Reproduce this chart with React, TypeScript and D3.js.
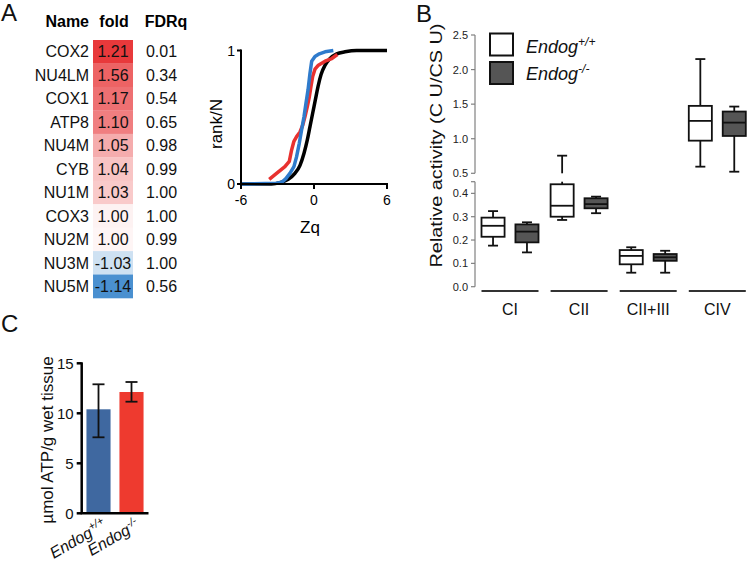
import React from "react";
import * as d3 from "d3";

const FONT = "'Liberation Sans', Arial, sans-serif";

// Panel A table
const geneNames = ["COX2", "NU4LM", "COX1", "ATP8", "NU4M", "CYB", "NU1M", "COX3", "NU2M", "NU3M", "NU5M"];
const foldLabels = ["1.21", "1.56", "1.17", "1.10", "1.05", "1.04", "1.03", "1.00", "1.00", "-1.03", "-1.14"];
const fdrqLabels = ["0.01", "0.34", "0.54", "0.65", "0.98", "0.99", "1.00", "1.00", "0.99", "1.00", "0.56"];
const heatScore = [1, 0.79, 0.72, 0.65, 0.42, 0.3, 0.27, 0.066, 0.05, -0.27, -1];

// Panel A CDF curves [Zq, rank/N]
const cdfBlack: [number, number][] = [
  [-6, 0], [-3.5, 0], [-2.8, 0.01], [-2.12, 0.035], [-1.57, 0.08], [-1.15, 0.14], [-0.82, 0.23],
  [-0.55, 0.33], [-0.33, 0.43], [-0.11, 0.53], [0.11, 0.63], [0.33, 0.73], [0.58, 0.82],
  [0.91, 0.89], [1.32, 0.94], [1.87, 0.975], [2.55, 0.99], [3.5, 1.0], [6, 1.0],
];
const cdfRed: [number, number][] = [
  [-3.68, 0.035], [-3.08, 0.08], [-2.39, 0.13], [-2.03, 0.17], [-1.84, 0.255], [-1.65, 0.32],
  [-1.43, 0.355], [-1.15, 0.39], [-0.93, 0.44], [-0.74, 0.505], [-0.55, 0.58], [-0.38, 0.655],
  [-0.25, 0.73], [-0.11, 0.805], [0.08, 0.86], [0.36, 0.89], [0.91, 0.92], [1.46, 0.94], [1.92, 0.97],
];
const cdfBlue: [number, number][] = [
  [-6, 0], [-3.08, 0.005], [-2.66, 0.0125], [-2.31, 0.04], [-1.98, 0.08], [-1.65, 0.13],
  [-1.43, 0.205], [-1.21, 0.305], [-1.02, 0.405], [-0.82, 0.505], [-0.66, 0.605], [-0.49, 0.705],
  [-0.33, 0.83], [-0.19, 0.92], [0.08, 0.955], [0.44, 0.975], [0.91, 0.99], [1.59, 1.0],
];
const cdfXTicks = [-6, 0, 6];
const cdfYTicks = [0, 1];

// Panel B box plots [min, q1, median, q3, max]
const complexes = ["CI", "CII", "CII+III", "CIV"];
const genotypes = ["wt", "ko"];
const wtStats = [
  [0.176, 0.214, 0.261, 0.296, 0.324],
  [0.286, 0.3, 0.347, 0.439, 0.755],
  [0.06, 0.096, 0.132, 0.157, 0.169],
  [0.596, 0.972, 1.258, 1.475, 2.152],
];
const koStats = [
  [0.147, 0.19, 0.236, 0.267, 0.276],
  [0.315, 0.336, 0.354, 0.379, 0.386],
  [0.06, 0.111, 0.126, 0.14, 0.154],
  [0.523, 1.04, 1.233, 1.393, 1.465],
];
const upperTicks = [0.5, 1.0, 1.5, 2.0, 2.5];
const lowerTicks = [0.0, 0.1, 0.2, 0.3, 0.4];

// Panel C
const atpGroups = ["+/+", "-/-"];
const atpMeans = [10.4, 12.13];
const atpLow = [7.6, 11.16];
const atpHigh = [12.9, 13.13];
const atpTicks = [0, 5, 10, 15];

const heatColor = (s: number) =>
  s >= 0 ? d3.interpolateRgb("#ffffff", "#e8393b")(s) : d3.interpolateRgb("#ffffff", "#4a90d0")(-s);

function PanelA() {
  const rowY = d3.scaleBand<string>().domain(geneNames).range([40, 298]);
  const xZ = d3.scaleLinear().domain([-6, 6]).range([241, 387]);
  const yR = d3.scaleLinear().domain([0, 1]).range([184, 50.5]);
  const lineLin = d3.line<[number, number]>().x((d) => xZ(d[0])).y((d) => yR(d[1]));
  const lineSmooth = d3
    .line<[number, number]>()
    .x((d) => xZ(d[0]))
    .y((d) => yR(d[1]))
    .curve(d3.curveMonotoneX);
  return (
    <g fontFamily={FONT}>
      <text x={1} y={21} fontSize={24} fill="#111">A</text>
      <text x={89} y={27} fontSize={16} fontWeight="bold" textAnchor="end">Name</text>
      <text x={114} y={27} fontSize={16} fontWeight="bold" textAnchor="middle">fold</text>
      <text x={166} y={27} fontSize={16} fontWeight="bold" textAnchor="middle">FDRq</text>
      {geneNames.map((g, i) => {
        const y0 = rowY(g)!;
        const cy = y0 + rowY.bandwidth() / 2;
        return (
          <g key={g}>
            <rect x={93} y={y0} width={40} height={rowY.bandwidth() + 0.3} fill={heatColor(heatScore[i])} />
            <text x={89} y={cy} dy="0.36em" fontSize={16} textAnchor="end" fill="#111">{g}</text>
            <text x={113} y={cy} dy="0.36em" fontSize={16} textAnchor="middle" fill="#111">{foldLabels[i]}</text>
            <text x={161.5} y={cy} dy="0.36em" fontSize={16} textAnchor="middle" fill="#111">{fdrqLabels[i]}</text>
          </g>
        );
      })}
      {/* CDF plot */}
      <path d={lineSmooth(cdfBlack)!} fill="none" stroke="#000" strokeWidth={3.5} />
      <path d={lineLin(cdfRed)!} fill="none" stroke="#e8312f" strokeWidth={3.5} strokeLinejoin="round" />
      <path d={lineLin(cdfBlue)!} fill="none" stroke="#2f7bcc" strokeWidth={3.5} strokeLinejoin="round" />
      <line x1={xZ(-6)} x2={xZ(-6)} y1={yR(1) - 1} y2={yR(0) + 1} stroke="#000" strokeWidth={2} />
      <line x1={xZ(-6) - 1} x2={xZ(6) + 1} y1={yR(0)} y2={yR(0)} stroke="#000" strokeWidth={2} />
      {cdfYTicks.map((t) => (
        <g key={t}>
          <line x1={xZ(-6) - 4} x2={xZ(-6)} y1={yR(t)} y2={yR(t)} stroke="#000" strokeWidth={2} />
          <text x={xZ(-6) - 6} y={yR(t)} dy="0.36em" fontSize={14} textAnchor="end">{t}</text>
        </g>
      ))}
      {cdfXTicks.map((t) => (
        <g key={t}>
          <line x1={xZ(t)} x2={xZ(t)} y1={yR(0)} y2={yR(0) + 5} stroke="#000" strokeWidth={2} />
          <text x={xZ(t)} y={205} fontSize={14} textAnchor="middle">{t}</text>
        </g>
      ))}
      <text transform="translate(222,124) rotate(-90)" fontSize={17} textAnchor="middle">rank/N</text>
      <text x={310} y={233} fontSize={17} textAnchor="middle">Zq</text>
    </g>
  );
}

function PanelB() {
  const lower = d3.scaleLinear().domain([0, 0.45]).range([286.7, 181.7]);
  const upper = d3.scaleLinear().domain([0.5, 2.5]).range([173.3, 35]);
  const yv = (v: number) => (v <= 0.47 ? lower(v) : upper(v));
  const gx = d3.scaleBand<string>().domain(complexes).range([481.5, 745.8]).paddingInner(0.175).paddingOuter(0);
  const ix = d3.scaleBand<string>().domain(genotypes).range([0, gx.bandwidth()]).paddingInner(0.32);
  const axisX = 475;
  const fmt = d3.format(".1f");

  const whisker = (cx: number, a: number, b: number) => {
    const segs: [number, number][] = [];
    if (a <= 0.45 && b > 0.47) {
      segs.push([yv(a), lower(0.45)]);
      segs.push([upper(0.5), yv(b)]);
    } else segs.push([yv(a), yv(b)]);
    return segs.map((s, k) => (
      <line key={k} x1={cx} x2={cx} y1={s[0]} y2={s[1]} stroke="#111" strokeWidth={1.8} />
    ));
  };

  const box = (stats: number[], x0: number, w: number, fill: string, key: string) => {
    const cx = x0 + w / 2;
    const [mn, q1, md, q3, mx] = stats;
    const cap = 10;
    return (
      <g key={key}>
        {whisker(cx, q3, mx)}
        {whisker(cx, mn, q1)}
        <line x1={cx - cap / 2} x2={cx + cap / 2} y1={yv(mx)} y2={yv(mx)} stroke="#111" strokeWidth={1.8} />
        <line x1={cx - cap / 2} x2={cx + cap / 2} y1={yv(mn)} y2={yv(mn)} stroke="#111" strokeWidth={1.8} />
        <rect x={x0} y={yv(q3)} width={w} height={yv(q1) - yv(q3)} fill={fill} stroke="#111" strokeWidth={1.8} />
        <line x1={x0} x2={x0 + w} y1={yv(md)} y2={yv(md)} stroke="#111" strokeWidth={1.8} />
      </g>
    );
  };

  return (
    <g fontFamily={FONT}>
      <text x={416} y={22} fontSize={24} fill="#111">B</text>
      <line x1={axisX} x2={axisX} y1={upper(2.5)} y2={upper(0.5)} stroke="#808080" strokeWidth={1.2} />
      <line x1={axisX} x2={axisX} y1={lower(0.45)} y2={lower(0)} stroke="#808080" strokeWidth={1.2} />
      <line x1={axisX - 4} x2={axisX} y1={lower(0.45)} y2={lower(0.45)} stroke="#808080" strokeWidth={1.2} />
      {upperTicks.map((t) => (
        <g key={"u" + t}>
          <line x1={axisX - 4} x2={axisX} y1={upper(t)} y2={upper(t)} stroke="#808080" strokeWidth={1.2} />
          <text x={axisX - 7} y={upper(t)} dy="0.36em" fontSize={11} textAnchor="end" fill="#222">{fmt(t)}</text>
        </g>
      ))}
      {lowerTicks.map((t) => (
        <g key={"l" + t}>
          <line x1={axisX - 4} x2={axisX} y1={lower(t)} y2={lower(t)} stroke="#808080" strokeWidth={1.2} />
          <text x={axisX - 7} y={lower(t)} dy="0.36em" fontSize={11} textAnchor="end" fill="#222">{fmt(t)}</text>
        </g>
      ))}
      <text transform="translate(442,145.5) rotate(-90)" fontSize={17} textAnchor="middle" textLength={244} lengthAdjust="spacingAndGlyphs" fill="#111">
        Relative activity (C U/CS U)
      </text>
      {complexes.map((c, i) => {
        const x0 = gx(c)!;
        return (
          <g key={c}>
            <line x1={x0} x2={x0 + gx.bandwidth()} y1={291} y2={291} stroke="#333" strokeWidth={2} />
            <text x={x0 + gx.bandwidth() / 2} y={315} fontSize={16} textAnchor="middle" fill="#111">{c}</text>
            {box(wtStats[i], x0 + ix("wt")!, ix.bandwidth(), "#ffffff", c + "wt")}
            {box(koStats[i], x0 + ix("ko")!, ix.bandwidth(), "#555555", c + "ko")}
          </g>
        );
      })}
      <rect x={490} y={33.5} width={23} height={22} fill="#fff" stroke="#111" strokeWidth={2} />
      <rect x={490} y={62} width={23} height={22} fill="#555" stroke="#111" strokeWidth={2} />
      <text x={526} y={53} fontSize={18} fontStyle="italic" fill="#111">
        Endog<tspan dy={-7} fontSize={12}>+/+</tspan>
      </text>
      <text x={526} y={80} fontSize={18} fontStyle="italic" fill="#111">
        Endog<tspan dy={-7} fontSize={12}>-/-</tspan>
      </text>
    </g>
  );
}

function PanelC() {
  const y = d3.scaleLinear().domain([0, 15]).range([513.3, 363.3]);
  const x = d3.scaleBand<string>().domain(atpGroups).range([82, 148]).paddingInner(0.27).paddingOuter(0.135);
  const colors = ["#3f68a0", "#ee3a2f"];
  const axisX = 81.7;
  return (
    <g fontFamily={FONT}>
      <text x={1} y={332} fontSize={24} fill="#111">C</text>
      {atpGroups.map((g, i) => (
        <rect key={g} x={x(g)!} y={y(atpMeans[i])} width={x.bandwidth()} height={y(0) - y(atpMeans[i])} fill={colors[i]} />
      ))}
      {atpGroups.map((g, i) => {
        const cx = x(g)! + x.bandwidth() / 2;
        return (
          <g key={"e" + g} stroke="#111" strokeWidth={1.8}>
            <line x1={cx} x2={cx} y1={y(atpHigh[i])} y2={y(atpLow[i])} />
            <line x1={cx - 6} x2={cx + 6} y1={y(atpHigh[i])} y2={y(atpHigh[i])} />
            <line x1={cx - 6} x2={cx + 6} y1={y(atpLow[i])} y2={y(atpLow[i])} />
          </g>
        );
      })}
      <line x1={axisX} x2={axisX} y1={y(15) - 1} y2={y(0)} stroke="#000" strokeWidth={2.5} />
      <line x1={axisX - 1} x2={148.5} y1={y(0)} y2={y(0)} stroke="#000" strokeWidth={2.5} />
      {atpTicks.map((t) => (
        <g key={t}>
          <line x1={axisX - 5} x2={axisX} y1={y(t)} y2={y(t)} stroke="#000" strokeWidth={2.5} />
          <text x={axisX - 8} y={y(t)} dy="0.36em" fontSize={15} textAnchor="end" fill="#111">{t}</text>
        </g>
      ))}
      <text transform="translate(53,440) rotate(-90)" fontSize={17} textAnchor="middle" fill="#111">
        µmol ATP/g wet tissue
      </text>
      {atpGroups.map((g) => {
        const cx = x(g)! + x.bandwidth() / 2;
        return (
          <text key={"l" + g} transform={`translate(${cx + 9},528) rotate(-30)`} fontSize={16} fontStyle="italic" textAnchor="end" fill="#111">
            Endog<tspan dy={-6} fontSize={11}>{g}</tspan>
          </text>
        );
      })}
    </g>
  );
}

export default function App() {
  return (
    <svg width={750} height={567} style={{ position: "absolute", left: 0, top: 0, background: "#fff" }}>
      <rect width={750} height={567} fill="#fff" />
      <PanelA />
      <PanelB />
      <PanelC />
    </svg>
  );
}
